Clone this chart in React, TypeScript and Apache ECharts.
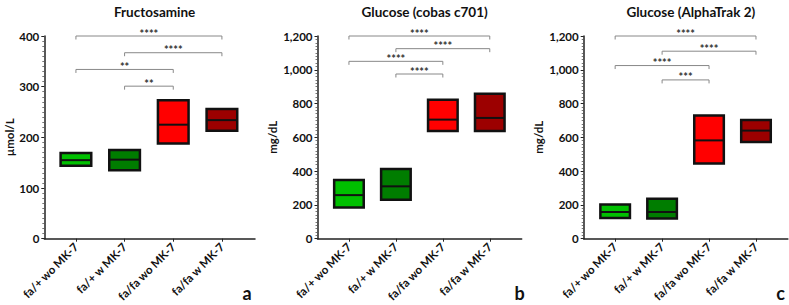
import React, { useEffect, useRef } from "react";
import * as echarts from "echarts";

const CATEGORIES = ["fa/+ wo MK-7", "fa/+ w MK-7", "fa/fa wo MK-7", "fa/fa w MK-7"];
const TITLES = ["Fructosamine", "Glucose (cobas c701)", "Glucose (AlphaTrak 2)"];
const Y_NAMES = ["µmol/L", "mg/dL", "mg/dL"];
const PANEL_LETTERS = ["a", "b", "c"];
const Y_MAX = [400, 1200, 1200];
const Y_INTERVAL = [100, 200, 200];

// [min, median, max] per group
const FRUCTOSAMINE = [
  [144, 155, 169],
  [135, 156, 175],
  [188, 225, 273],
  [213, 234, 256],
];
const GLUCOSE_COBAS = [
  [185, 258, 348],
  [230, 310, 412],
  [638, 705, 823],
  [638, 715, 858],
];
const GLUCOSE_ALPHATRAK = [
  [122, 158, 202],
  [120, 158, 236],
  [445, 582, 730],
  [573, 640, 703],
];

// brackets: [from group, to group, level, stars]
const BRACKETS_A: [number, number, number, string][] = [
  [0, 3, 400, "****"],
  [1, 3, 367, "****"],
  [0, 2, 334, "**"],
  [1, 2, 301, "**"],
];
const BRACKETS_B: [number, number, number, string][] = [
  [0, 3, 1200, "****"],
  [1, 3, 1125, "****"],
  [0, 2, 1050, "****"],
  [1, 2, 975, "****"],
];
const BRACKETS_C: [number, number, number, string][] = [
  [0, 3, 1200, "****"],
  [1, 3, 1110, "****"],
  [0, 2, 1025, "****"],
  [1, 2, 940, "***"],
];

const PANEL_DATA = [FRUCTOSAMINE, GLUCOSE_COBAS, GLUCOSE_ALPHATRAK];
const PANEL_BRACKETS = [BRACKETS_A, BRACKETS_B, BRACKETS_C];

const BOX_COLORS = ["#00c000", "#007d00", "#ff0000", "#9c0000"];
const FONT = "Lato, 'Open Sans', sans-serif";

// layout (pixels)
const GRID_LEFT = [44.3, 317.5, 583.7];
const GRID_WIDTH = [210.7, 204.2, 204.2];
const X_MIN = [-0.65, -0.67, -0.67];
const X_MAX = [3.68, 3.68, 3.68];
const GRID_TOP = 36;
const GRID_BOTTOM = 66.3;
const NAME_GAP = [29, 39, 39];
const BOX_W = 0.63;

function fmt(v: number) {
  return v.toLocaleString("en-US");
}

export default function App() {
  const ref = useRef<HTMLDivElement>(null);
  useEffect(() => {
    if (!ref.current) return;
    const chart = echarts.init(ref.current, undefined, { renderer: "svg" });
    const grids: any[] = [];
    const xAxes: any[] = [];
    const yAxes: any[] = [];
    const series: any[] = [];
    const titles: any[] = [];
    const graphics: any[] = [];
    for (let p = 0; p < 3; p++) {
      grids.push({
        left: GRID_LEFT[p],
        width: GRID_WIDTH[p],
        top: GRID_TOP,
        bottom: GRID_BOTTOM,
        containLabel: false,
      });
      xAxes.push({
        type: "value",
        gridIndex: p,
        min: X_MIN[p],
        max: X_MAX[p],
        splitLine: { show: false },
        axisLine: { show: true, onZero: false, lineStyle: { color: "#222", width: 1.5 } },
        axisTick: {
          show: true,
          customValues: [0, 1, 2, 3],
          length: 3,
          lineStyle: { color: "#222", width: 1 },
        },
        axisLabel: {
          customValues: [0, 1, 2, 3],
          formatter: (v: number) => CATEGORIES[Math.round(v)] ?? "",
          rotate: 45,
          margin: 6,
          fontFamily: FONT,
          fontWeight: "bold",
          fontSize: 11.5,
          color: "#111",
        },
      });
      yAxes.push({
        type: "value",
        gridIndex: p,
        min: 0,
        max: Y_MAX[p],
        interval: Y_INTERVAL[p],
        name: Y_NAMES[p],
        nameLocation: "middle",
        nameGap: NAME_GAP[p],
        nameTextStyle: { fontFamily: FONT, fontWeight: "bold", fontSize: 11.5, color: "#111" },
        splitLine: { show: false },
        axisLine: { show: true, onZero: false, lineStyle: { color: "#222", width: 1.5 } },
        axisTick: { show: true, length: 3, lineStyle: { color: "#222", width: 1 } },
        minorTick: { show: true, splitNumber: 10, length: 2, lineStyle: { color: "#555", width: 0.8 } },
        axisLabel: {
          formatter: (v: number) => fmt(v),
          margin: 5,
          fontFamily: FONT,
          fontWeight: "bold",
          fontSize: 11.5,
          color: "#111",
        },
      });
      titles.push({
        text: TITLES[p],
        left: GRID_LEFT[p] + GRID_WIDTH[p] / 2,
        top: 0,
        textAlign: "center",
        textStyle: { fontFamily: FONT, fontWeight: "bold", fontSize: 13.5, color: "#111" },
      });
      const data = PANEL_DATA[p].map((d, i) => [i, d[0], d[1], d[2]]);
      series.push({
        type: "custom",
        xAxisIndex: p,
        yAxisIndex: p,
        encode: { x: 0, y: [1, 2, 3] },
        data,
        clip: false,
        renderItem: (params: any, api: any) => {
          const i = api.value(0);
          const top = api.coord([i, api.value(3)]);
          const bot = api.coord([i, api.value(1)]);
          const mid = api.coord([i, api.value(2)]);
          const w = api.size([BOX_W, 0])[0];
          return {
            type: "group",
            children: [
              {
                type: "rect",
                shape: { x: top[0] - w / 2, y: top[1], width: w, height: bot[1] - top[1] },
                style: { fill: BOX_COLORS[params.dataIndex], stroke: "#111", lineWidth: 2.5 },
              },
              {
                type: "line",
                shape: { x1: top[0] - w / 2, y1: mid[1], x2: top[0] + w / 2, y2: mid[1] },
                style: { stroke: "#111", lineWidth: 2 },
              },
            ],
          };
        },
      });
      const br = PANEL_BRACKETS[p];
      series.push({
        type: "custom",
        xAxisIndex: p,
        yAxisIndex: p,
        encode: { x: [0, 1], y: 2 },
        data: br.map((b) => [b[0], b[1], b[2]]),
        clip: false,
        renderItem: (params: any, api: any) => {
          const b0 = br[params.dataIndex];
          const a = api.coord([b0[0], b0[2]]);
          const b = api.coord([b0[1], b0[2]]);
          const ls = { stroke: "#888", lineWidth: 1 };
          return {
            type: "group",
            children: [
              { type: "line", shape: { x1: a[0], y1: a[1], x2: b[0], y2: b[1] }, style: ls },
              { type: "line", shape: { x1: a[0], y1: a[1], x2: a[0], y2: a[1] + 3.5 }, style: ls },
              { type: "line", shape: { x1: b[0], y1: b[1], x2: b[0], y2: b[1] + 3.5 }, style: ls },
              {
                type: "text",
                x: (a[0] + b[0]) / 2,
                y: a[1] + 2.5,
                style: {
                  text: b0[3],
                  fill: "#333",
                  font: `bold 11px ${FONT}`,
                  align: "center",
                  verticalAlign: "bottom",
                },
              },
            ],
          };
        },
      });
    }
    const LETTER_X = [247, 519.5, 780.5];
    for (let p = 0; p < 3; p++) {
      graphics.push({
        type: "text",
        x: LETTER_X[p],
        y: 302,
        style: {
          text: PANEL_LETTERS[p],
          fill: "#111",
          font: `bold 18px ${FONT}`,
          align: "center",
          verticalAlign: "bottom",
        },
      });
    }
    chart.setOption({
      animation: false,
      backgroundColor: "#fff",
      title: titles,
      grid: grids,
      xAxis: xAxes,
      yAxis: yAxes,
      series,
      graphic: graphics,
    });
    return () => chart.dispose();
  }, []);
  return (
    <div
      ref={ref}
      style={{ position: "fixed", left: 0, top: 0, width: 789, height: 305 }}
    />
  );
}
